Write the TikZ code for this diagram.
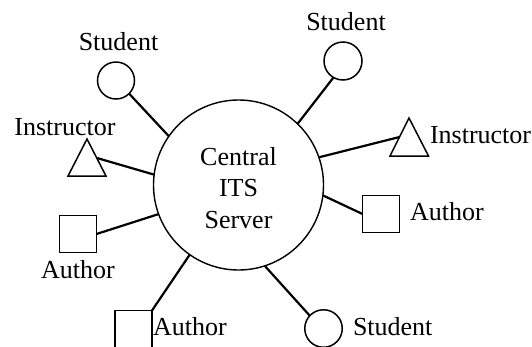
\documentclass[tikz,border=0pt]{standalone}
\usepackage{fontspec}
\setmainfont{Liberation Serif}
\begin{document}
\begin{tikzpicture}[x=1pt,y=-1pt,
  every node/.style={inner sep=0pt, outer sep=0pt},
  lbl/.style={font=\fontsize{26}{31.5}\selectfont},
  outl/.style={draw, line width=1.5pt},
  stud/.style={outl, circle},
  auth/.style={outl, rectangle, minimum size=37pt},
  conn/.style={line width=2.2pt},
]
\useasboundingbox (0,0) rectangle (532,346);
\fill[white] (0,0) rectangle (532,346);
\clip (0,0) rectangle (532,346);

% server
\node[circle, draw, line width=1.4pt, minimum size=170pt] (server) at (238.5,185) {};
\node[lbl, align=center] (st) at (238.5,187.7) {Central\\ITS\\Server};

% clients
\node[stud, minimum size=37pt] (s1) at (116,80.5) {};
\node[stud, minimum size=38pt] (s2) at (343,61) {};
\node[stud, minimum size=37.5pt] (s3) at (323.5,328.5) {};
\node[auth] (a1) at (78,234) {};
\node[auth] (a2) at (133.5,329) {};
\node[auth] (a3) at (381,214) {};
\draw[outl, line join=miter] (87,139) -- (106,176) -- (68,176) -- cycle;
\draw[outl, line join=miter] (409,118) -- (428.5,156) -- (390,156) -- cycle;
\coordinate (t1) at (97,158);
\coordinate (t2) at (399.5,137);

% connectors
\draw[conn] (s1.-45) -- (server.145);
\draw[conn] (s2.240) -- (server.46);
\draw[conn] (t2) -- (server.19);
\draw[conn] (t1) -- (server.173);
\draw[conn] (a1.east) -- (server.200);
\draw[conn] (a2.north east) -- (server.235);
\draw[conn] (a3.west) -- (server.-7);
\draw[conn] (s3.137) -- (server.-72);

% labels
\node[lbl, anchor=base] (l1) at (118.5,50) {Student};
\node[lbl, anchor=base] (l2) at (346,30) {Student};
\node[lbl, anchor=base] (l3) at (65,135) {Instructor};
\node[lbl, anchor=base west] (l4) at (430,143) {Instructor};
\node[lbl, anchor=base] (l5) at (78,278) {Author};
\node[lbl, anchor=base west] (l6) at (153,335) {Author};
\node[lbl, anchor=base west] (l7) at (410,220) {Author};
\node[lbl, anchor=base west] (l8) at (353,335) {Student};
\end{tikzpicture}
\end{document}
